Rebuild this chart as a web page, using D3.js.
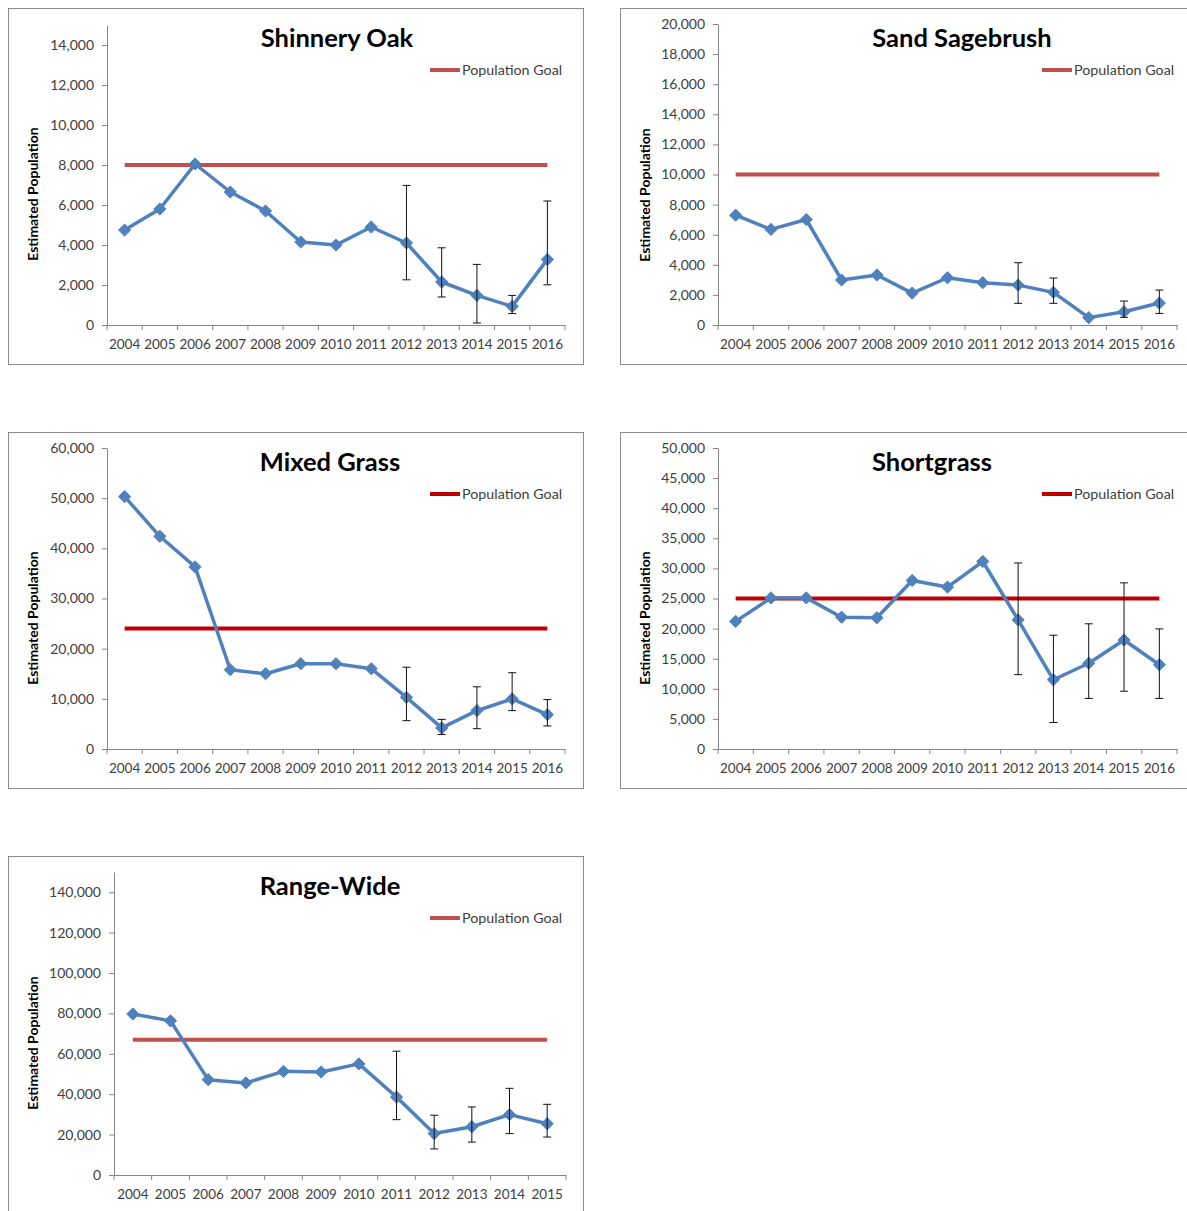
<!DOCTYPE html>
<html><head><meta charset="utf-8">
<script src="https://cdn.jsdelivr.net/npm/d3@7"></script>
<style>
body{margin:0;background:#fff}
svg{display:block}
text{font-family:Lato,"Open Sans","DejaVu Sans",sans-serif}
</style></head>
<body><svg id="c" width="1187" height="1211"></svg>
<script>
// ---------- DATA ----------
const years13 = ["2004","2005","2006","2007","2008","2009","2010","2011","2012","2013","2014","2015","2016"];
const years12 = ["2004","2005","2006","2007","2008","2009","2010","2011","2012","2013","2014","2015"];

const shinneryOak     = [4750, 5800, 8050, 6650, 5700, 4150, 4000, 4900, 4100, 2150, 1480, 930, 3280];
const shinneryOakLow  = [null,null,null,null,null,null,null,null, 2260, 1400, 100, 570, 2010];
const shinneryOakHigh = [null,null,null,null,null,null,null,null, 6980, 3860, 3030, 1480, 6200];
const shinneryOakGoal = 8000;

const sandSagebrush     = [7300, 6350, 7010, 2990, 3320, 2120, 3140, 2810, 2650, 2170, 490, 880, 1460];
const sandSagebrushLow  = [null,null,null,null,null,null,null,null, 1440, 1440, null, 510, 770];
const sandSagebrushHigh = [null,null,null,null,null,null,null,null, 4140, 3120, null, 1590, 2320];
const sandSagebrushGoal = 10000;

const mixedGrass     = [50300, 42400, 36300, 15800, 15000, 17000, 17000, 16000, 10300, 4200, 7650, 10000, 6850];
const mixedGrassLow  = [null,null,null,null,null,null,null,null, 5650, 2900, 4050, 7650, 4600];
const mixedGrassHigh = [null,null,null,null,null,null,null,null, 16300, 5900, 12400, 15200, 9850];
const mixedGrassGoal = 24000;

const shortgrass     = [21200, 25100, 25100, 21900, 21800, 28000, 26900, 31150, 21450, 11500, 14250, 18100, 14000];
const shortgrassLow  = [null,null,null,null,null,null,null,null, 12350, 4400, 8400, 9600, 8400];
const shortgrassHigh = [null,null,null,null,null,null,null,null, 30900, 18900, 20800, 27600, 19950];
const shortgrassGoal = 25000;

const rangeWide     = [79700, 76300, 47200, 45600, 51300, 51000, 55000, 38600, 20500, 23900, 29900, 25400];
const rangeWideLow  = [null,null,null,null,null,null,null, 27400, 12900, 16300, 20500, 18800];
const rangeWideHigh = [null,null,null,null,null,null,null, 61300, 29600, 33700, 42900, 35000];
const rangeWideGoal = 67000;

const titles = ["Shinnery Oak","Sand Sagebrush","Mixed Grass","Shortgrass","Range-Wide"];
const yMaxes  = [15000, 20000, 60000, 50000, 150000];
const yTickMax = [14000, 20000, 60000, 50000, 140000];
const yTickStep = [2000, 2000, 10000, 5000, 20000];
const legendLabel = "Population Goal";
const yAxisLabel = "Estimated Population";

// ---------- LAYOUT / STYLE ----------
const goalColors = ["#C0504D","#C0504D","#C00000","#C00000","#C0504D"];
const layouts = [
  {box:[8,8,575,356],   plot:[107,25,565,325],   title:[337,47],  legend:[430,70],   ylab:[33,194]},
  {box:[620,8,580,356], plot:[718,24,1177,325],  title:[962,47],  legend:[1042,70],  ylab:[645,195]},
  {box:[8,432,575,356], plot:[107,448,565,749],  title:[330,471], legend:[430,494],  ylab:[33,618]},
  {box:[620,432,580,356], plot:[718,448,1177,749], title:[932,471], legend:[1042,494], ylab:[645,618]},
  {box:[8,856,575,360], plot:[114,872,566,1175], title:[330,895], legend:[430,918],  ylab:[33,1043]}
];
const panels = [
  {years:years13, vals:shinneryOak, lo:shinneryOakLow, hi:shinneryOakHigh, goal:shinneryOakGoal},
  {years:years13, vals:sandSagebrush, lo:sandSagebrushLow, hi:sandSagebrushHigh, goal:sandSagebrushGoal},
  {years:years13, vals:mixedGrass, lo:mixedGrassLow, hi:mixedGrassHigh, goal:mixedGrassGoal},
  {years:years13, vals:shortgrass, lo:shortgrassLow, hi:shortgrassHigh, goal:shortgrassGoal},
  {years:years12, vals:rangeWide, lo:rangeWideLow, hi:rangeWideHigh, goal:rangeWideGoal}
];

const svg = d3.select("#c");
const axisColor = "#868686", textColor = "#404040", seriesColor = "#4F81BD";

panels.forEach((p, i) => {
  const L = layouts[i];
  const g = svg.append("g");
  g.append("rect").attr("x", L.box[0]+0.5).attr("y", L.box[1]+0.5)
    .attr("width", L.box[2]).attr("height", L.box[3])
    .attr("fill", "#fff").attr("stroke", "#8c8c8c").attr("stroke-width", 1);

  const [x0, y0, x1, y1] = L.plot;
  const x = d3.scaleBand().domain(p.years).range([x0, x1]);
  const y = d3.scaleLinear().domain([0, yMaxes[i]]).range([y1, y0]);
  const cx = d => x(d) + x.bandwidth()/2;

  // Y axis
  const yAx = g.append("g").attr("transform", `translate(${x0},0)`)
    .call(d3.axisLeft(y).tickValues(d3.range(0, yTickMax[i] + 1, yTickStep[i]))
      .tickFormat(d3.format(",")).tickSize(5).tickSizeOuter(0).tickPadding(8));
  yAx.select(".domain").attr("stroke", axisColor);
  yAx.selectAll(".tick line").attr("stroke", axisColor);
  yAx.selectAll(".tick text").attr("fill", textColor).style("font-size", "14px").style("font-family", "Lato");

  // X axis
  const xAx = g.append("g").attr("transform", `translate(0,${y1})`)
    .call(d3.axisBottom(x).tickSize(0).tickPadding(14));
  xAx.select(".domain").attr("stroke", axisColor);
  xAx.selectAll(".tick text").attr("fill", textColor).style("font-size", "13.5px").style("font-family", "Lato");
  const bounds = p.years.map(d => x(d)).concat([x1]);
  xAx.selectAll(".btick").data(bounds).join("line").attr("class","btick")
    .attr("x1", d => d).attr("x2", d => d).attr("y1", 0).attr("y2", 5)
    .attr("stroke", axisColor);

  // Goal line
  g.append("line")
    .attr("x1", cx(p.years[0])).attr("x2", cx(p.years[p.years.length-1]))
    .attr("y1", y(p.goal)).attr("y2", y(p.goal))
    .attr("stroke", goalColors[i]).attr("stroke-width", 4);

  // Series line
  const pts = p.years.map((yr, k) => ({yr, v: p.vals[k], lo: p.lo[k], hi: p.hi[k]}));
  g.append("path").datum(pts)
    .attr("d", d3.line().x(d => cx(d.yr)).y(d => y(d.v)))
    .attr("fill", "none").attr("stroke", seriesColor).attr("stroke-width", 3.5)
    .attr("stroke-linejoin", "round");

  // markers
  g.selectAll(".mk").data(pts).join("path").attr("class","mk")
    .attr("transform", d => `translate(${cx(d.yr)},${y(d.v)})`)
    .attr("d", d3.symbol().type(d3.symbolDiamond2).size(95))
    .attr("fill", seriesColor).attr("stroke", seriesColor).attr("stroke-width", 1);

  // error bars
  const eb = pts.filter(d => d.lo != null);
  const eg = g.selectAll(".eb").data(eb).join("g").attr("class","eb");
  eg.append("line").attr("x1", d => cx(d.yr)).attr("x2", d => cx(d.yr))
    .attr("y1", d => y(d.lo)).attr("y2", d => y(d.hi)).attr("stroke", "#111").attr("stroke-width", 1);
  eg.append("line").attr("x1", d => cx(d.yr)-4).attr("x2", d => cx(d.yr)+4)
    .attr("y1", d => y(d.lo)).attr("y2", d => y(d.lo)).attr("stroke", "#111").attr("stroke-width", 1);
  eg.append("line").attr("x1", d => cx(d.yr)-4).attr("x2", d => cx(d.yr)+4)
    .attr("y1", d => y(d.hi)).attr("y2", d => y(d.hi)).attr("stroke", "#111").attr("stroke-width", 1);

  // Title
  g.append("text").attr("x", L.title[0]).attr("y", L.title[1]).attr("text-anchor", "middle")
    .style("font-size", "25.5px").style("font-weight", "bold").attr("fill", "#000").text(titles[i]);

  // Legend
  g.append("line").attr("x1", L.legend[0]).attr("x2", L.legend[0] + 30)
    .attr("y1", L.legend[1]).attr("y2", L.legend[1])
    .attr("stroke", goalColors[i]).attr("stroke-width", 4);
  g.append("text").attr("x", L.legend[0] + 32).attr("y", L.legend[1] + 5)
    .style("font-size", "14.3px").attr("fill", textColor).text(legendLabel);

  // Y axis label
  g.append("text").attr("transform", `translate(${L.ylab[0]},${L.ylab[1]}) rotate(-90)`)
    .attr("text-anchor", "middle").attr("dy", "0.35em")
    .style("font-size", "14px").style("font-weight", "bold").attr("fill", "#000").text(yAxisLabel);
});
</script></body></html>
